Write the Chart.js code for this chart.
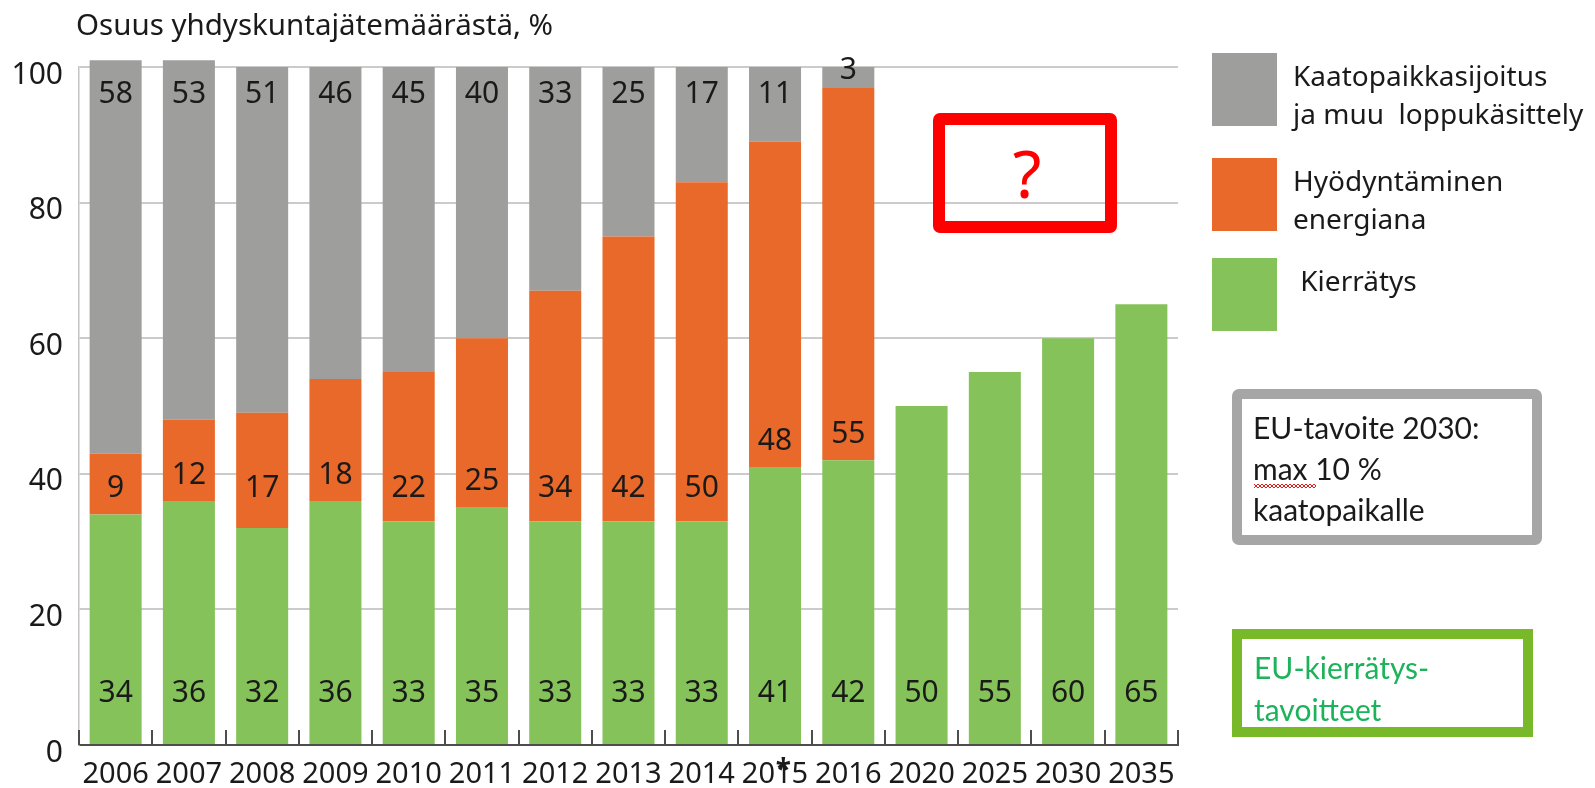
<!DOCTYPE html>
<html lang="fi">
<head>
<meta charset="utf-8">
<title>Osuus yhdyskuntajätemäärästä</title>
<script src="https://cdn.jsdelivr.net/npm/chart.js@4.4.1/dist/chart.umd.min.js"></script>
<style>
  html, body { margin: 0; padding: 0; background: #ffffff; }
  #wrap { position: relative; width: 1595px; height: 788px; overflow: hidden; }
  #chart { position: absolute; left: 0; top: 0; }
  .t { position: absolute; white-space: nowrap; color: #1a1a1a; }
  .title { font-family: 'Noto Sans', sans-serif; font-size: 29.5px; }
  .leg { font-family: 'Noto Sans', sans-serif; font-size: 28px; }
  .box { position: absolute; box-sizing: border-box; background: transparent; }
  .note { font-family: 'Lato', 'Open Sans', sans-serif; font-size: 30px; }
</style>
</head>
<body>
<div id="wrap">
  <canvas id="chart" width="1595" height="788"></canvas>
</div>
<script>
// ---- data ----
const categories = ['2006','2007','2008','2009','2010','2011','2012','2013','2014','2015','2016','2020','2025','2030','2035'];
const recycling  = [34, 36, 32, 36, 33, 35, 33, 33, 33, 41, 42, 50, 55, 60, 65];
const energy     = [9, 12, 17, 18, 22, 25, 34, 42, 50, 48, 55, null, null, null, null];
const landfill   = [58, 53, 51, 46, 45, 40, 33, 25, 17, 11, 3, null, null, null, null];
const yTicks     = [0, 20, 40, 60, 80, 100];
const seriesNames = ['Kierrätys', 'Hyödyntäminen energiana', 'Kaatopaikkasijoitus ja muu loppukäsittely'];
const legendLines = [['Kaatopaikkasijoitus', 'ja muu\u00a0 loppukäsittely'], ['Hyödyntäminen', 'energiana'], ['\u00a0Kierrätys']];
const titleText = 'Osuus yhdyskuntajätemäärästä, %';
const noteLandfill = ['EU-tavoite 2030:', 'max 10 %', 'kaatopaikalle'];
const noteRecycling = ['EU-kierrätys-', 'tavoitteet'];
const unknownMark = '?';

const COLORS = { green: '#86c25a', orange: '#e8692a', gray: '#9e9e9d' };
const FONT_PX = 30;
const XFONT_PX = 29;

Chart.defaults.font.family = "'Noto Sans', sans-serif";
Chart.defaults.color = '#1a1a1a';

const decor = {
  id: 'decor',
  afterDatasetsDraw(chart) {
    const ctx = chart.ctx;
    const x = chart.scales.x, y = chart.scales.y;
    const pitch = x.getPixelForValue(1) - x.getPixelForValue(0);
    const y0 = y.getPixelForValue(0);
    ctx.save();
    ctx.strokeStyle = '#4d4d4d';
    ctx.lineWidth = 2;
    for (let i = 0; i <= categories.length; i++) {
      const px = Math.round(x.getPixelForValue(0) + (i - 0.5) * pitch);
      ctx.beginPath();
      ctx.moveTo(px, y0);
      ctx.lineTo(px, y0 - 15);
      ctx.stroke();
    }
    ctx.restore();
    ctx.save();
    ctx.font = FONT_PX + "px 'Noto Sans', sans-serif";
    ctx.fillStyle = '#1a1a1a';
    ctx.textAlign = 'center';
    ctx.textBaseline = 'middle';
    categories.forEach((c, i) => {
      const cx = x.getPixelForValue(i);
      const g = recycling[i];
      ctx.fillText(String(g), cx, y.getPixelForValue(7.6));
      if (energy[i] != null) {
        const v = Math.max(37.8, g + 3.8);
        ctx.fillText(String(energy[i]), cx, y.getPixelForValue(v));
      }
      if (landfill[i] != null) {
        const top = g + energy[i] + landfill[i];
        const v = landfill[i] >= 8 ? 96.0 : top - 0.5;
        ctx.fillText(String(landfill[i]), cx, y.getPixelForValue(v));
      }
    });
    ctx.restore();
  },
  afterDraw(chart) {
    const ctx = chart.ctx;
    const x = chart.scales.x;
    const idx = categories.indexOf('2015');
    if (idx < 0) return;
    ctx.save();
    ctx.font = XFONT_PX + "px 'Noto Sans', sans-serif";
    const full = ctx.measureText('2015').width;
    const pre = ctx.measureText('20').width;
    const one = ctx.measureText('1').width;
    const cx = x.getPixelForValue(idx) - full / 2 + pre + one / 2;
    ctx.font = "bold 28px 'Noto Sans', sans-serif";
    ctx.fillStyle = '#1a1a1a';
    ctx.textAlign = 'center';
    ctx.textBaseline = 'middle';
    ctx.fillText('*', cx, chart.scales.y.getPixelForValue(0) + 26);
    ctx.restore();
  }
};

new Chart(document.getElementById('chart'), {
  type: 'bar',
  data: {
    labels: categories,
    datasets: [
      { label: seriesNames[0], data: recycling, backgroundColor: COLORS.green, clip: false },
      { label: seriesNames[1], data: energy, backgroundColor: COLORS.orange, clip: false },
      { label: seriesNames[2], data: landfill, backgroundColor: COLORS.gray, clip: false }
    ]
  },
  options: {
    responsive: false,
    animation: false,
    events: [],
    layout: { padding: { left: 0, top: 67, right: 417, bottom: 0 } },
    datasets: { bar: { barPercentage: 0.71, categoryPercentage: 1.0 } },
    plugins: { legend: { display: false }, tooltip: { enabled: false }, title: { display: false } },
    scales: {
      x: {
        stacked: true,
        afterFit(s) { s.height = 43; },
        grid: { display: false, drawTicks: false },
        border: { display: true, color: '#4d4d4d', width: 2 },
        ticks: { font: { size: XFONT_PX }, color: '#1a1a1a', padding: 12, maxRotation: 0, autoSkip: false }
      },
      y: {
        stacked: true,
        min: 0, max: 100,
        afterFit(s) { s.width = 79; },
        afterBuildTicks(s) { s.ticks = yTicks.map(v => ({ value: v })); },
        grid: {
          drawTicks: false,
          lineWidth: 2,
          color: (c) => (c.tick && c.tick.value === 0) ? 'rgba(0,0,0,0)' : '#cbcbcb'
        },
        border: { display: true, color: '#c4c4c4', width: 1.5 },
        ticks: { font: { size: FONT_PX }, color: '#1a1a1a', padding: 16, labelOffset: 8 }
      }
    }
  },
  plugins: [decor]
});

const wrap = document.getElementById('wrap');
function addText(txt, cls, left, centerY, lh, extra) {
  const d = document.createElement('div');
  d.className = 't ' + cls;
  d.textContent = txt;
  d.style.left = left + 'px';
  d.style.top = (centerY - lh / 2) + 'px';
  d.style.lineHeight = lh + 'px';
  if (extra) Object.assign(d.style, extra);
  wrap.appendChild(d);
  return d;
}
function addBox(l, t, w, h, border, color, radius) {
  const d = document.createElement('div');
  d.className = 'box';
  Object.assign(d.style, { left: l + 'px', top: t + 'px', width: w + 'px', height: h + 'px',
    border: border + 'px solid ' + color, borderRadius: radius + 'px' });
  wrap.appendChild(d);
  return d;
}
function addSwatch(l, t, w, h, color) {
  const d = document.createElement('div');
  Object.assign(d.style, { position: 'absolute', left: l + 'px', top: t + 'px', width: w + 'px', height: h + 'px', background: color });
  wrap.appendChild(d);
}

addText(titleText, 'title', 76, 24, 40);

const legColors = [COLORS.gray, COLORS.orange, COLORS.green];
const swTop = [53, 158, 258];
legendLines.forEach((lines, k) => {
  addSwatch(1212, swTop[k], 65, 73, legColors[k]);
  lines.forEach((ln, j) => addText(ln, 'leg', 1293, swTop[k] + 22 + j * 38, 38));
});

addBox(933, 113, 184, 120, 12, '#ff0000', 7);
addText(unknownMark, 'title', 998, 172, 76, { color: '#ff0000', fontSize: '66px', width: '58px', textAlign: 'center' });

addBox(1232, 389, 310, 156, 10, '#a6a6a6', 7);
noteLandfill.forEach((ln, j) => addText(ln, 'note', 1253, 427 + j * 41, 40));
const sq = document.createElement('div');
Object.assign(sq.style, { position: 'absolute', left: '1254px', top: '484px', width: '62px', height: '4px',
  backgroundImage: 'linear-gradient(135deg, transparent 45%, #e0201f 45%, #e0201f 60%, transparent 60%), linear-gradient(45deg, transparent 45%, #e0201f 45%, #e0201f 60%, transparent 60%)',
  backgroundSize: '4px 4px' });
wrap.appendChild(sq);

addBox(1232, 629, 301, 108, 10, '#78b92a', 0);
noteRecycling.forEach((ln, j) => addText(ln, 'note', 1254, 667 + j * 42, 40, { color: '#1cb35a' }));
</script>
</body>
</html>
